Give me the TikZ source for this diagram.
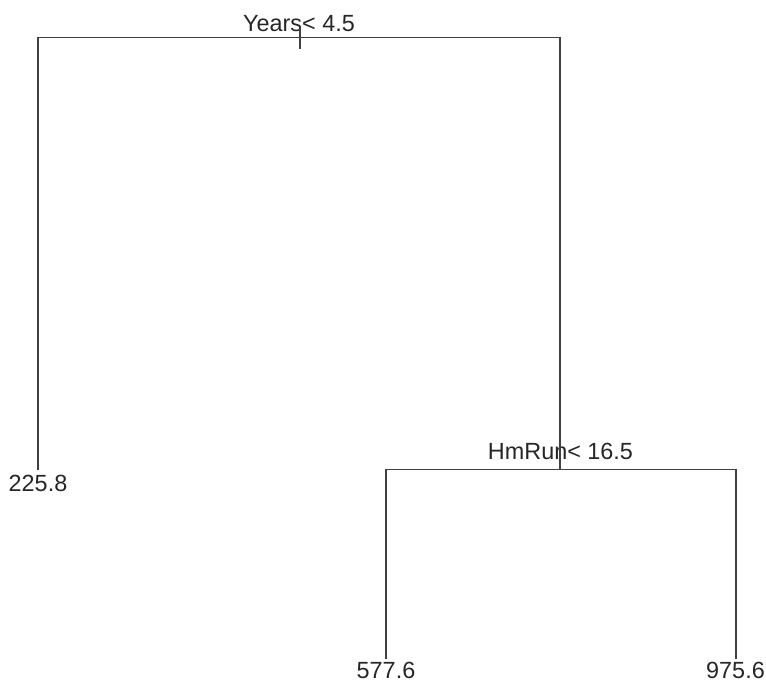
\documentclass[tikz,border=0pt]{standalone}
\usepackage{fontspec}
\setmainfont{Liberation Sans}
\begin{document}
\begin{tikzpicture}[x=1pt,y=-1pt,
  treeline/.style={line width=1.5pt,draw=black!75},
  lbl/.style={inner sep=0pt,anchor=base,text=black!85,font=\fontsize{23.4}{26}\selectfont}]
\useasboundingbox (0,0) rectangle (766,682);
% split labels
\node[lbl] (s1) at (299,31.7) {Years< 4.5};
\node[lbl] (s2) at (560.5,459.3) {HmRun< 16.5};
% leaf labels
\node[lbl] (l1) at (38,491) {225.8};
\node[lbl] (l2) at (386,678) {577.6};
\node[lbl] (l3) at (735.5,678) {975.6};
% tree coordinates
\coordinate (r)  at (300,37.5);
\coordinate (rL) at (38,37.5);
\coordinate (rR) at (560,37.5);
\coordinate (a)  at (560,469.5);
\coordinate (aL) at (386,469.5);
\coordinate (aR) at (736,469.5);
\coordinate (e1) at (38,469.5);
\coordinate (e2) at (386,658.5);
\coordinate (e3) at (736,658.5);
% edges
\draw[treeline] (e1) -- (rL) -- (rR) -- (a);
\draw[treeline] (r) ++(0,-9.5) -- ++(0,21);
\draw[treeline] (e2) -- (aL) -- (aR) -- (e3);
\end{tikzpicture}
\end{document}
